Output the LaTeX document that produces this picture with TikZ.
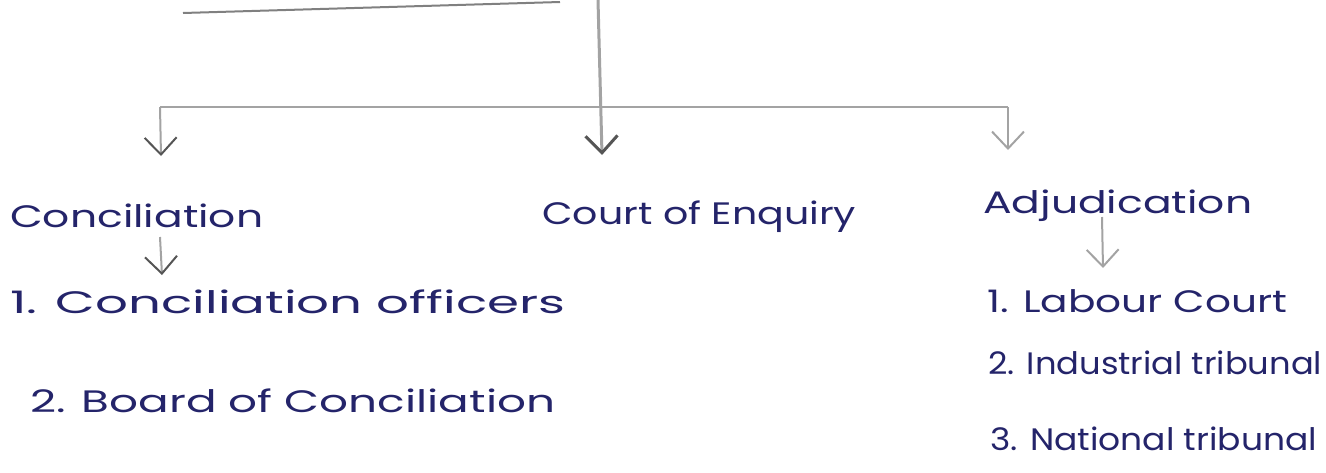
\documentclass[tikz,border=0pt]{standalone}
\usepackage{fontspec}
\setmainfont{Poppins}
\usetikzlibrary{arrows.meta,calc}
\definecolor{ink}{HTML}{24246A}
\definecolor{pencil}{HTML}{A3A3A3}
\definecolor{darkpencil}{HTML}{555555}
\newcommand{\fitw}[2]{\resizebox{#1}{\height}{#2}}
\begin{document}
\begin{tikzpicture}[x=1pt,y=-1pt,
  lbl/.style={anchor=base west, inner sep=0pt, text=ink, font=\fontsize{31}{36}\selectfont},
  wire/.style={draw=pencil, line width=2pt},
  arr/.style={wire, -{Straight Barb[length=17pt,width=32pt]}},
  darr/.style={wire, -{Straight Barb[length=17pt,width=32pt,color=darkpencil]}},
]
\useasboundingbox (0,0) rectangle (1326,472);

% heading underline (heading itself is cut off)
\draw[draw=gray, line width=2pt] (183,13) -- (560,2);

% labels
\node[lbl] (concil) at (10,227) {\fitw{253pt}{Conciliation}};
\node[lbl] (court)  at (542,224) {\fitw{314pt}{Court of Enquiry}};
\node[lbl] (adj)    at (983,213) {\fitw{269pt}{Adjudication}};
\node[lbl] (c1) at (10,313) {\fitw{555pt}{1. Conciliation officers}};
\node[lbl] (c2) at (30,412) {\fitw{525pt}{2. Board of Conciliation}};
\node[lbl] (a1) at (987,312) {\fitw{300pt}{1. Labour Court}};
\node[lbl] (a2) at (988,374) {\fitw{334pt}{2. Industrial tribunal}};
\node[lbl] (a3) at (990,450) {\fitw{327pt}{3. National tribunal}};

% connectors
\coordinate (top)  at (598,0);
\coordinate (jl)   at (160,107);
\coordinate (jr)   at (1008,107);
\coordinate (tipL) at (161,156);
\coordinate (tipC) at (602,155);
\coordinate (tipR) at (1008,150);

\draw[wire] (jl) -- (jr);
\draw[darr, line width=3pt] (top) -- (tipC);
\draw[darr] (jl) -- (tipL);
\draw[arr] (jr) -- (tipR);
\draw[darr] ($(concil.base west)+(150,10)$) -- ($(c1.base west)+(152,-38)$);
\draw[arr] ($(adj.base west)+(119,4)$) -- ($(a1.base west)+(116,-44)$);
\end{tikzpicture}
\end{document}
